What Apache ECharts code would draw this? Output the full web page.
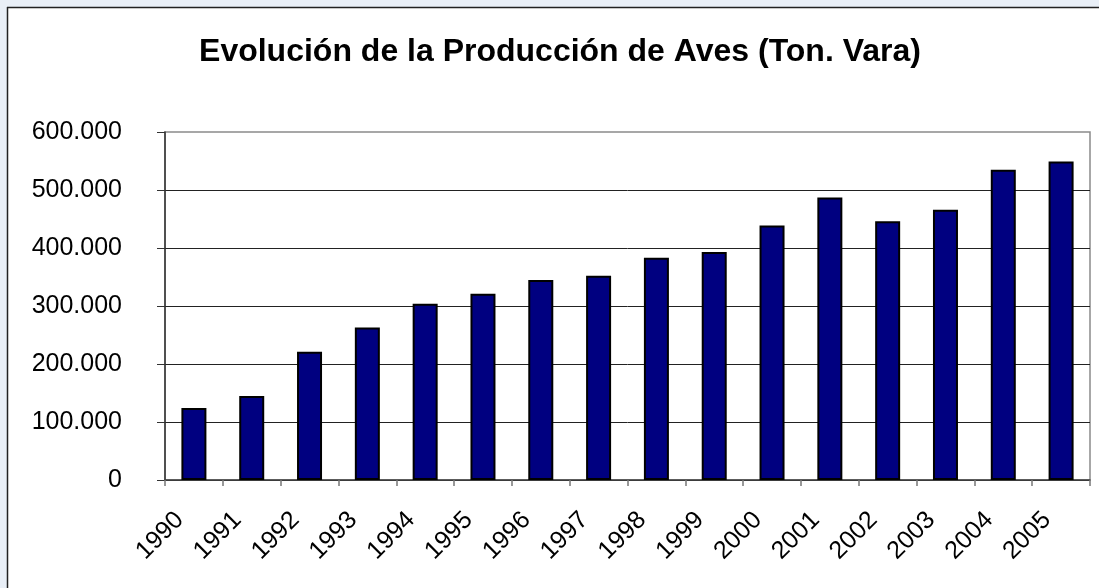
<!DOCTYPE html>
<html>
<head>
<meta charset="utf-8">
<script src="https://cdn.jsdelivr.net/npm/echarts@6/dist/echarts.min.js"></script>
<style>
  html, body { margin: 0; padding: 0; background: #fff; }
  #chart { width: 1099px; height: 588px; }
</style>
</head>
<body>
<div id="chart"></div>
<script>
var dom = document.getElementById('chart');
var myChart = echarts.init(dom, null, { renderer: 'canvas' });

var titleText = 'Evolución de la Producción de Aves (Ton. Vara)';
var years = ['1990', '1991', '1992', '1993', '1994', '1995', '1996', '1997',
             '1998', '1999', '2000', '2001', '2002', '2003', '2004', '2005'];
var produccion = [124000, 145000, 221000, 263000, 304000, 321000, 345000, 352000,
                  383000, 393000, 439000, 487000, 446000, 466000, 535000, 549000];
var yMin = 0;
var yMax = 600000;
var yStep = 100000;

var fontFamily = '"Liberation Sans", Arial, sans-serif';

// 100000 -> "100.000"
function fmtMiles(v) {
    return String(v).replace(/\B(?=(\d{3})+(?!\d))/g, '.');
}

var option = {
    backgroundColor: '#ffffff',
    animation: false,
    title: {
        text: titleText,
        left: 555,
        textAlign: 'center',
        top: 31,
        textStyle: {
            fontFamily: fontFamily,
            fontSize: 32,
            fontWeight: 'bold',
            color: '#000'
        }
    },
    graphic: [
        // faint strips outside the chart frame
        { type: 'rect', left: 0, top: 0, shape: { width: 1099, height: 7 }, style: { fill: '#e9eff7' }, z: -10 },
        { type: 'rect', left: 0, top: 0, shape: { width: 7, height: 588 }, style: { fill: '#e9eff7' }, z: -10 },
        // chart frame (left and top edges)
        { type: 'line', shape: { x1: 7, y1: 7.5, x2: 1099, y2: 7.5 }, style: { stroke: '#222', lineWidth: 1.5 } },
        { type: 'line', shape: { x1: 7.5, y1: 7, x2: 7.5, y2: 588 }, style: { stroke: '#222', lineWidth: 1.5 } }
    ],
    grid: {
        left: 165,
        right: 9,
        top: 132,
        bottom: 108,
        show: true,
        borderColor: '#8a8a8a',
        borderWidth: 1.5,
        backgroundColor: '#fff'
    },
    xAxis: {
        type: 'category',
        data: years,
        axisLine: { show: true, lineStyle: { color: '#444', width: 1.5 } },
        axisTick: { show: true, length: 6, lineStyle: { color: '#777', width: 1.5 } },
        axisLabel: {
            rotate: 45,
            margin: 22,
            interval: 0,
            padding: [0, 20, 0, 0],
            fontFamily: fontFamily,
            fontSize: 25,
            color: '#000'
        }
    },
    yAxis: {
        type: 'value',
        min: yMin,
        max: yMax,
        interval: yStep,
        axisLine: { show: true, lineStyle: { color: '#333', width: 1.5 } },
        axisTick: { show: true, inside: false, length: 8, lineStyle: { color: '#333', width: 1 } },
        axisLabel: {
            margin: 43,
            fontFamily: fontFamily,
            fontSize: 25,
            color: '#000',
            formatter: fmtMiles
        },
        splitLine: { show: true, showMaxLine: false, lineStyle: { color: '#222', width: 1 } }
    },
    series: [{
        name: 'Producción de Aves',
        type: 'bar',
        data: produccion,
        barWidth: 25,
        itemStyle: {
            color: '#000080',
            borderColor: '#000',
            borderWidth: 2
        }
    }]
};

myChart.setOption(option);
window.addEventListener('resize', myChart.resize);
</script>
</body>
</html>
